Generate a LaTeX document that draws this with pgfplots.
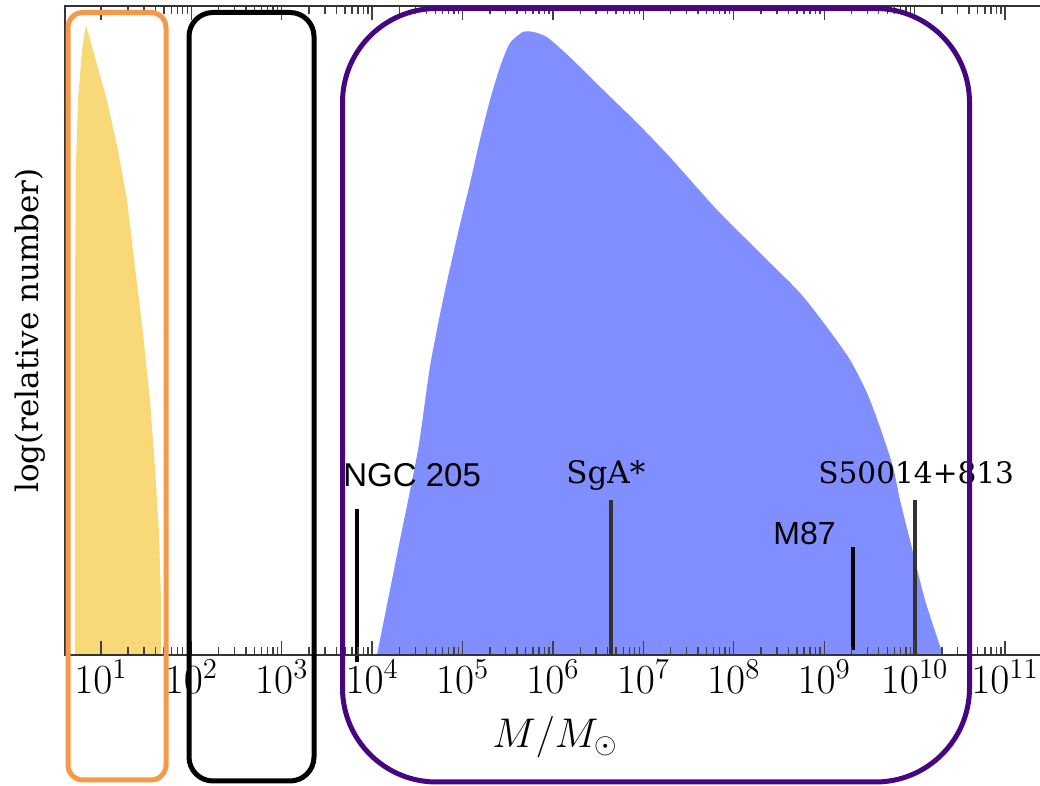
\documentclass[border=0pt]{standalone}
\usepackage{fontspec}
\usepackage{pgfplots}
\pgfplotsset{compat=1.18}
\newfontfamily\dvserif{DejaVu Serif}
\newfontfamily\lsans{Liberation Sans}
\definecolor{yellowc}{RGB}{249,216,120}
\definecolor{bluec}{RGB}{128,142,255}
\definecolor{orangec}{RGB}{247,152,72}
\definecolor{purplec}{RGB}{70,5,130}
\begin{document}
\begin{tikzpicture}
\begin{axis}[
  scale only axis, width=490pt, height=324.5pt,
  xmode=log, xmin=4.0, xmax=2.77e11, ymin=0, ymax=100,
  ytick=\empty,
  xtick={1e1,1e2,1e3,1e4,1e5,1e6,1e7,1e8,1e9,1e10,1e11},
  axis on top, clip=false,
  major tick length=7pt, minor tick length=4pt,
  tick style={black!75, line width=0.7pt},
  axis line style={black!80, line width=0.8pt},
  every tick label/.append style={font=\fontsize{20.74}{22}\selectfont},
  xticklabel style={anchor=base, yshift=-19.5pt},
  xlabel={$M/M_\odot$},
  xlabel style={font=\fontsize{20.74}{22}\selectfont, at={(axis description cs:0.5,0)}, anchor=center, yshift=-41pt},
  ylabel={log(relative number)},
  ylabel style={font=\dvserif\fontsize{15.5}{17}\selectfont, at={(axis description cs:-0.0357,0.5)}, anchor=center},
]
% stellar-mass population
\addplot[fill=yellowc, draw=none] coordinates {
(5.152,0) (5.152,54.7) (5.284,75.2) (5.572,85.5) (6.166,93.2) (6.823,97.1)
(8.166,93.2) (11.64,85.5) (15.42,77.8) (19.41,70.1) (23.77,59.8) (29.17,49.6)
(34.83,39.3) (39.54,29.0) (43.85,18.8) (46.13,8.5) (46.13,0)} -- cycle;
% supermassive population
\addplot[fill=bluec, draw=none, smooth, tension=0.4] coordinates {
(1.130e4,0) (2.028e4,17.7) (3.214e4,31.6) (4.355e4,44.4) (6.067e4,54.7)
(8.892e4,65.0) (1.208e5,72.7) (1.556e5,79.4) (2.009e5,85.5) (2.594e5,90.6)
(3.342e5,94.3) (4.656e5,96.0) (6.012e5,96.0) (8.590e5,95.2) (1.542e6,92.1)
(3.573e6,87.1) (8.492e6,82.0) (1.968e7,76.7) (6.516e7,68.6) (2.328e8,60.9)
(5.395e8,55.8) (1.074e9,50.5) (1.928e9,45.5) (2.972e9,40.4) (4.140e9,35.1)
(5.768e9,29.0) (6.887e9,23.9) (8.892e9,17.7) (1.303e10,8.5) (2.061e10,0)} -- cycle;
% individual objects
\addplot[black, line width=2pt] coordinates {(6792,-1.1) (6792,22.5)};
\addplot[black!80, line width=2pt] coordinates {(4.39e6,0) (4.39e6,23.9)};
\addplot[black, line width=2pt] coordinates {(2.08e9,0.8) (2.08e9,16.6)};
\addplot[black!80, line width=1.8pt] coordinates {(1.01e10,0) (1.01e10,23.9)};
\node[anchor=base west, inner sep=0, font=\lsans\fontsize{16.5}{18}\selectfont] at (axis cs:4754,25.9) {NGC 205};
\node[anchor=base west, inner sep=0, font=\dvserif\fontsize{15.5}{17}\selectfont] at (axis cs:1.393e6,26.5) {SgA*};
\node[anchor=base west, inner sep=0, font=\dvserif\fontsize{14.8}{17}\selectfont] at (axis cs:8.53e8,26.5) {S50014+813};
\node[anchor=base west, inner sep=0, font=\lsans\fontsize{16}{18}\selectfont] at (axis cs:2.72e8,17.1) {M87};
\end{axis}
\draw[orangec, line width=2.5pt, rounded corners=7.5pt] (1.5pt,-62.5pt) rectangle (50.5pt,321.25pt);
\draw[black, line width=2.5pt, rounded corners=12pt] (62pt,-63pt) rectangle (124.5pt,321.25pt);
\draw[purplec, line width=2.5pt, rounded corners=47pt] (138.75pt,-63.5pt) rectangle (452.25pt,323.25pt);
\pgfresetboundingbox
\path[use as bounding box] (-32.5pt,-65.5pt) rectangle (487.5pt,327.5pt);
\end{tikzpicture}
\end{document}
